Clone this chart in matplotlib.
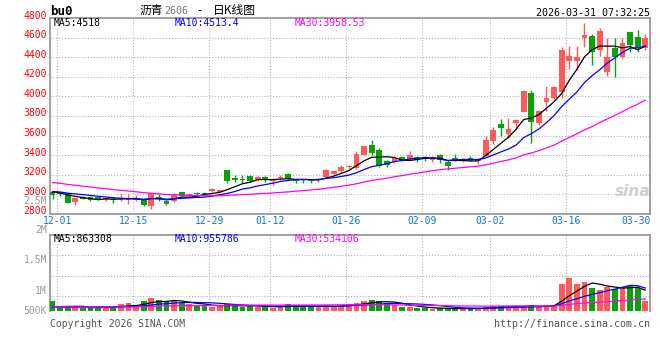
import matplotlib
matplotlib.use('Agg')
import matplotlib.pyplot as plt
import numpy as np

# ---- BU2606 daily bars, 2025-12-01 .. 2026-03-31 (79 sessions) ----
open_ = [3020, 3012, 3010, 2918, 2970, 2970, 2975, 2938, 2950, 2950, 2945, 2940, 2945, 2878, 2968, 2935, 2928, 3025, 2985, 3008,
         3009, 3035, 3025, 3250, 3168, 3160, 3190, 3148, 3174, 3140, 3168, 3208, 3155, 3150, 3145, 3142, 3175, 3208, 3236, 3278,
         3270, 3405, 3504, 3450, 3337, 3327, 3381, 3354, 3381, 3378, 3347, 3405, 3327, 3368, 3347, 3368, 3340, 3395, 3540, 3722,
         3618, 3726, 3845, 4032, 3726, 3940, 3981, 4042, 4365, 4365, 4600, 4620, 4474, 4246, 4498, 4406, 4661, 4610, 4491]
high = [3030, 3022, 3014, 2963, 2985, 2978, 2980, 2965, 2965, 3003, 3005, 2990, 2950, 3017, 3003, 2943, 3015, 3028, 3006, 3020,
        3020, 3068, 3048, 3252, 3198, 3198, 3195, 3188, 3185, 3162, 3198, 3215, 3160, 3155, 3155, 3170, 3256, 3250, 3300, 3300,
        3440, 3495, 3558, 3473, 3354, 3395, 3395, 3440, 3395, 3395, 3388, 3415, 3347, 3415, 3374, 3388, 3368, 3592, 3692, 3772,
        3777, 3770, 4063, 4063, 3862, 4110, 4110, 4508, 4518, 4518, 4746, 4634, 4695, 4600, 4600, 4600, 4661, 4678, 4634]
low = [2950, 2985, 2912, 2892, 2950, 2935, 2940, 2930, 2915, 2935, 2905, 2930, 2885, 2855, 2935, 2895, 2920, 2980, 2980, 2985,
       2985, 3028, 3020, 3120, 3130, 3120, 3128, 3140, 3125, 3096, 3150, 3150, 3120, 3120, 3120, 3130, 3165, 3200, 3228, 3255,
       3260, 3400, 3405, 3280, 3280, 3320, 3337, 3347, 3327, 3337, 3327, 3320, 3252, 3337, 3333, 3337, 3313, 3388, 3517, 3592,
       3580, 3675, 3838, 3522, 3710, 3852, 3971, 3981, 4280, 4270, 4508, 4321, 4416, 4212, 4202, 4389, 4450, 4457, 4474]
close = [2998, 3002, 2916, 2960, 2957, 2944, 2950, 2960, 2946, 2958, 2966, 2960, 2893, 3010, 2955, 2902, 3008, 2985, 3003, 3000,
         3000, 3055, 3045, 3140, 3150, 3150, 3132, 3180, 3142, 3147, 3176, 3155, 3140, 3142, 3140, 3158, 3248, 3240, 3283, 3285,
         3412, 3490, 3422, 3293, 3303, 3371, 3354, 3405, 3347, 3361, 3381, 3354, 3286, 3347, 3361, 3354, 3361, 3558, 3658, 3676,
         3668, 3760, 4056, 3736, 3852, 3988, 4100, 4474, 4416, 4406, 4627, 4457, 4671, 4406, 4406, 4542, 4525, 4498, 4600]
volume = [465, 184, 222, 222, 208, 222, 222, 222, 222, 338, 376, 284, 465, 568, 504, 415, 465, 376, 338, 284,
          284, 246, 284, 338, 284, 246, 284, 246, 246, 208, 246, 338, 300, 260, 222, 222, 300, 284, 300, 338,
          376, 465, 504, 465, 376, 300, 246, 222, 208, 180, 170, 180, 190, 170, 165, 175, 190, 230, 260, 290,
          250, 280, 230, 300, 250, 290, 330, 1120, 1360, 1120, 1210, 980, 890, 1015, 915, 1015, 1040, 980, 465]  # thousand lots
# the 29 sessions before 12-01, only used to seed the moving averages
prev_close = [3240, 3235, 3230, 3220, 3225, 3215, 3210, 3200, 3195, 3190, 3180, 3170, 3160, 3150, 3130, 3100,
              3090, 3070, 3060, 3050, 3045, 3040, 3035, 3030, 3025, 3035, 3030, 3025, 3020]
prev_volume = [260, 240, 280, 250, 230, 270, 260, 240, 250, 280, 260, 250, 240, 230, 260, 270,
               250, 240, 230, 220, 210, 200, 220, 190, 210, 200, 190, 210, 200]

tick_idx = [0, 10, 20, 28, 38, 48, 57, 67, 77]
tick_lbl = ['12-01', '12-15', '12-29', '01-12', '01-26', '02-09', '03-02', '03-16', '03-30']
price_lvls = [2800, 3000, 3200, 3400, 3600, 3800, 4000, 4200, 4400, 4600, 4800]
vol_lbl = ['2.5M', '2M', '1.5M', '1M', '500K']

UP, DN = '#ff5a5a', '#0aa20a'
GRID = '#b4b4b4'
EDGE = '#9a9a9a'
MONO = 'DejaVu Sans Mono'
CJK = ['Noto Sans CJK SC', 'DejaVu Sans']

W, H = 660, 360
XL, XR = 50, 650.3
K_TOP, K_BOT = 18.1, 213.9
V_TOP, V_BOT = 234.5, 311.0
X0, DX = 52.5, 7.6          # centre of first bar, bar pitch (px)
GOFF = 0.63                 # date grid sits a bit right of the bar


def ma(seed, vals, n):
    s = np.r_[seed, vals].astype(float)
    return np.convolve(s, np.ones(n) / n, mode='valid')[-len(vals):]


def ptext(xp, yp, s, **kw):
    return fig.text(xp / W, 1 - yp / H, s, **kw)


o, h, l, c = (np.array(a, float) for a in (open_, high, low, close))
v = np.array(volume, float) * 1000
n = len(c)
x = np.arange(n)
up = c >= o
col = np.where(up, UP, DN)

fig = plt.figure(figsize=(W / 100, H / 100), dpi=100)
ax = fig.add_axes([XL / W, 1 - K_BOT / H, (XR - XL) / W, (K_BOT - K_TOP) / H])
axv = fig.add_axes([XL / W, 1 - V_BOT / H, (XR - XL) / W, (V_BOT - V_TOP) / H], sharex=ax)

xlim = ((XL - X0) / DX, (XR - X0) / DX)
grid_x = [i + GOFF for i in tick_idx[:-1]]

# --- candles ---
ax.vlines(x, l, h, colors=col, lw=1.0, zorder=3)
body = np.maximum(np.abs(c - o), 9)
ax.bar(x, body, bottom=np.minimum(o, c), width=0.74, color=col, lw=0, zorder=4)
ax.plot(x, ma(prev_close, c, 5), color='black', lw=0.9, zorder=5)
ax.plot(x, ma(prev_close, c, 10), color='#0000ff', lw=0.9, zorder=5)
ax.plot(x, ma(prev_close, c, 30), color='#ff00ff', lw=0.9, zorder=5)
ax.set_ylim(2800, 4800)
ax.set_xlim(*xlim)
ax.set_yticks(price_lvls[1:-1])
ax.set_xticks(grid_x)

# --- volume ---
v_lo, v_hi = 80e3, 3.025e6
axv.bar(x, v, width=0.74, color=col, lw=0, zorder=3)
axv.plot(x, ma(np.array(prev_volume) * 1000, v, 5), color='black', lw=0.9, zorder=5)
axv.plot(x, ma(np.array(prev_volume) * 1000, v, 10), color='#0000ff', lw=0.9, zorder=5)
axv.plot(x, ma(np.array(prev_volume) * 1000, v, 30), color='#ff00ff', lw=0.9, zorder=5)
axv.set_ylim(v_lo, v_hi)
vg_px = [255, 275.5, 296]
axv.set_yticks([v_lo + (V_BOT - yp) / (V_BOT - V_TOP) * (v_hi - v_lo) for yp in vg_px])

for a in (ax, axv):
    a.grid(True, color=GRID, lw=0.8, ls=(0, (1, 1.6)), zorder=0)
    a.tick_params(length=0, labelbottom=False, labelleft=False)
    for s in a.spines.values():
        s.set_color(EDGE)
        s.set_linewidth(1.3)
axv.spines['bottom'].set_visible(False)

# --- texts ---
for p in price_lvls:
    yp = K_BOT - (p - 2800) / 2000 * (K_BOT - K_TOP) - 2.5
    ptext(47, max(yp, 13.5), str(p), ha='right', va='center', color='red', fontsize=7, family=MONO)
for lbl, yp in zip(vol_lbl, [200.5, 230, 260, 290.5, 311]):
    ptext(47, yp, lbl, ha='right', va='center', color='#9a9a9a', fontsize=7, family=MONO)
for i, lbl in zip(tick_idx, tick_lbl):
    xp = X0 + (i + GOFF) * DX
    if xp > XR - 16:
        ptext(XR, 221, lbl, ha='right', va='center', color='#0a78d2', fontsize=7, family=MONO)
    else:
        ptext(xp, 221, lbl, ha='center', va='center', color='#0a78d2', fontsize=7, family=MONO)

ptext(50, 11.5, 'bu0', ha='left', va='center', fontsize=9, weight='bold', family=MONO)
ptext(140, 10.5, '沥青', ha='left', va='center', fontsize=8.5, family=CJK)
ptext(164, 11, '2606', ha='left', va='center', fontsize=7.2, color='#777777', family=MONO)
ptext(200, 10.5, '-', ha='center', va='center', fontsize=8.5, family=CJK)
ptext(213, 10.5, '日K线图', ha='left', va='center', fontsize=8.5, family=CJK)
ptext(XR, 12.5, '2026-03-31 07:32:25', ha='right', va='center', fontsize=7.2, family=MONO)

ptext(54, 23.5, 'MA5:4518', ha='left', va='center', fontsize=7, family=MONO)
ptext(175, 23.5, 'MA10:4513.4', ha='left', va='center', fontsize=7, color='#0000ff', family=MONO)
ptext(295, 23.5, 'MA30:3958.53', ha='left', va='center', fontsize=7, color='#ff00ff', family=MONO)
ptext(54, 238.5, 'MA5:863308', ha='left', va='center', fontsize=7, family=MONO)
ptext(175, 238.5, 'MA10:955786', ha='left', va='center', fontsize=7, color='#0000ff', family=MONO)
ptext(295, 238.5, 'MA30:534106', ha='left', va='center', fontsize=7, color='#ff00ff', family=MONO)

ptext(633, 192, 'sina', ha='center', va='center', fontsize=11, style='italic', weight='bold',
      color='#cfcfcf', family='DejaVu Sans')
ptext(50, 324, 'Copyright 2026 SINA.COM', ha='left', va='center', fontsize=7, color='#555555', family=MONO)
ptext(XR, 324, 'http://finance.sina.com.cn', ha='right', va='center', fontsize=7.2, color='#555555', family=MONO)

fig.savefig('out.png', dpi=100, facecolor='white')
